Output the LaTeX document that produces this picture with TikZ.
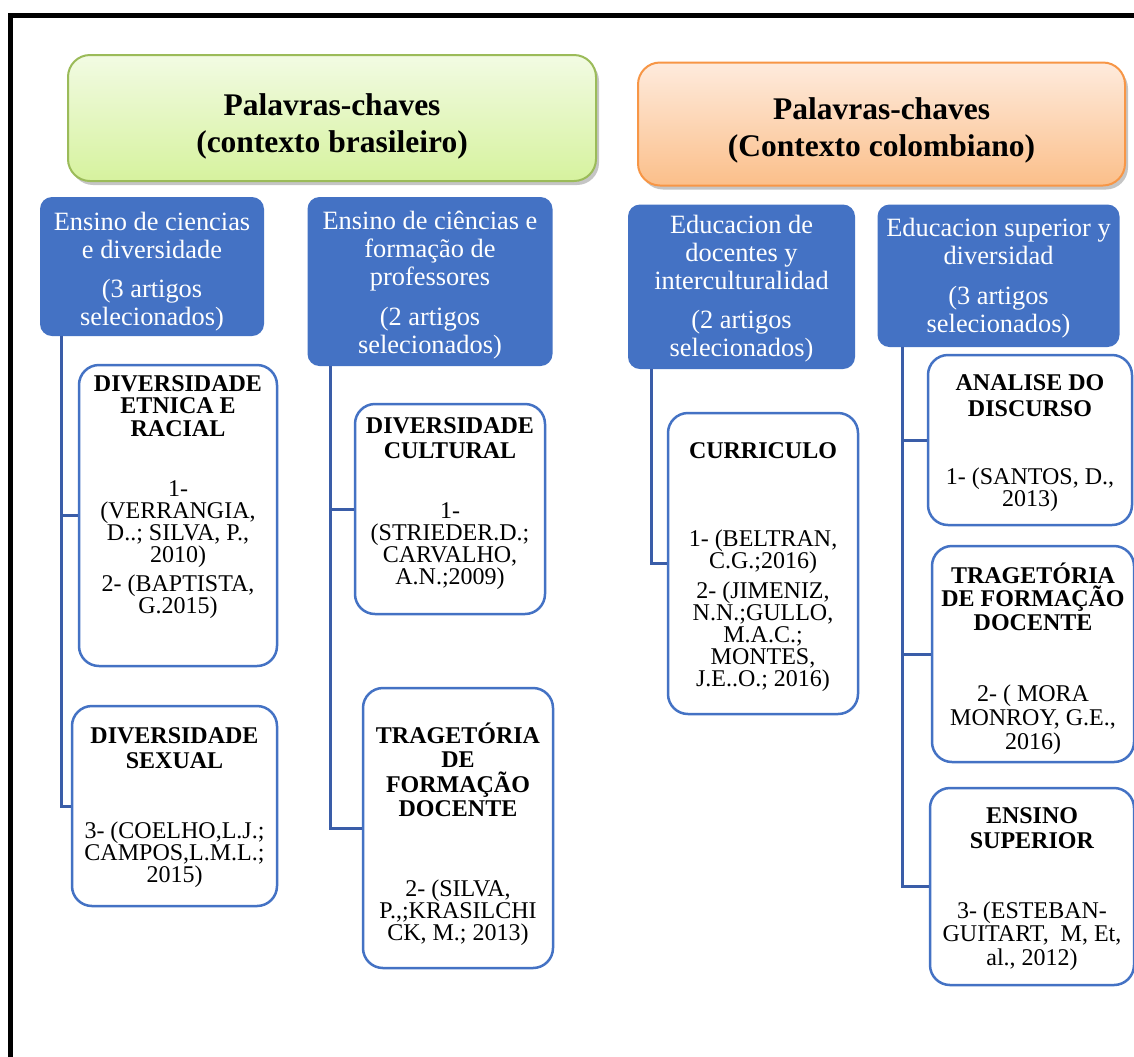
\documentclass[tikz,border=0pt]{standalone}
\usepackage{fontspec}
\setmainfont{Liberation Serif}
\usetikzlibrary{shadows}
\definecolor{accentblue}{HTML}{4472C4}
\definecolor{linkblue}{HTML}{3A5DA8}
\definecolor{greenedge}{HTML}{9BBB59}
\definecolor{greentop}{HTML}{F2FBE3}
\definecolor{greenbot}{HTML}{D6F29E}
\definecolor{orangeedge}{HTML}{F79646}
\definecolor{orangetop}{HTML}{FEEBDD}
\definecolor{orangebot}{HTML}{FBBF8A}
% invisible strut that sets the height of a first text line
\newcommand\firsth[1]{\rule{0pt}{#1}}

\begin{document}
\begin{tikzpicture}[x=0.5pt,y=-0.5pt,
  headbox/.style={rounded corners=11pt, line width=1pt, align=center,
    font=\fontsize{15.75}{18.5}\selectfont\bfseries,
    drop shadow={shadow xshift=1.5pt,shadow yshift=-2pt,opacity=.45}},
  topic/.style={fill=accentblue, rounded corners=6pt, text=white, align=center,
    font=\fontsize{13.2}{14}\selectfont, inner sep=0pt},
  leaf/.style={draw=accentblue, line width=1.25pt, rounded corners=10pt, fill=white, inner sep=0pt},
  leaftext/.style={anchor=north, align=center, font=\fontsize{12}{11}\selectfont,
    inner sep=0pt, execute at begin node={\firsth{11pt}}},
  link/.style={draw=linkblue, line width=1.5pt},
]
\useasboundingbox (0,0) rectangle (1134,1056);
\clip (0,0) rectangle (1134,1056);
\fill[white] (0,0) rectangle (1134,1056);

% outer frame
\draw[line width=2.5pt] (10.5,15.5) rectangle (1160,1080);

% keyword headers
\node[headbox, draw=greenedge, top color=greentop, bottom color=greenbot,
      minimum width=264pt, minimum height=63pt] (kwbr) at (332,118)
  {\firsth{19.2pt}Palavras-chaves\\(contexto brasileiro)};
\node[headbox, draw=orangeedge, top color=orangetop, bottom color=orangebot,
      minimum width=243.5pt, minimum height=61.5pt] (kwco) at (881.5,124)
  {\firsth{17.2pt}Palavras-chaves\\(Contexto colombiano)};

% topic boxes
\node[topic, minimum width=112pt, minimum height=69.5pt] (b1) at (152,266.5)
  {\firsth{14.5pt}Ensino de ciencias\\e diversidade\\[5.75pt](3 artigos\\selecionados)};
\node[topic, minimum width=122.5pt, minimum height=84.5pt] (b2) at (430,281.5)
  {\firsth{13pt}Ensino de ciências e\\formação de\\professores\\[5.75pt](2 artigos\\selecionados)};
\node[topic, minimum width=113.5pt, minimum height=82.25pt] (b3) at (741.5,286.75)
  {\firsth{11pt}Educacion de\\docentes y\\interculturalidad\\[5.75pt](2 artigos\\selecionados)};
\node[topic, minimum width=121pt, minimum height=71.25pt] (b4) at (998.5,275.75)
  {\firsth{11.7pt}Educacion superior y\\diversidad\\[5.75pt](3 artigos\\selecionados)};

% keyword boxes
\node[leaf, minimum width=99pt,  minimum height=150.5pt] (l1) at (178,515.5) {};
\node[leaf, minimum width=102.5pt, minimum height=100pt] (l2) at (174.5,806) {};
\node[leaf, minimum width=95pt,  minimum height=105pt] (l3) at (450,509) {};
\node[leaf, minimum width=95pt,  minimum height=140pt] (l4) at (458,828) {};
\node[leaf, minimum width=95pt,  minimum height=150.5pt] (l5) at (763,563.5) {};
\node[leaf, minimum width=102pt, minimum height=85pt] (l6) at (1030,440) {};
\node[leaf, minimum width=101pt, minimum height=108pt] (l7) at (1033,654) {};
\node[leaf, minimum width=102pt, minimum height=98.5pt] (l8) at (1032,886.5) {};

% keyword box contents
\node[leaftext] (l1t) at (178,375)
  {\textbf{DIVERSIDADE}\\[0.25pt]\textbf{ETNICA E}\\[0.25pt]\textbf{RACIAL}\\[19pt]
   1-\\(VERRANGIA,\\D..; SILVA, P.,\\2010)\\[3.5pt]2- (BAPTISTA,\\G.2015)};
\node[leaftext] (l2t) at (174.5,727)
  {\textbf{DIVERSIDADE}\\[1.5pt]\textbf{SEXUAL}\\[24pt]
   3- (COELHO,L.J.;\\CAMPOS,L.M.L.;\\2015)};
\node[leaftext] (l3t) at (450,417)
  {\textbf{DIVERSIDADE}\\[1.5pt]\textbf{CULTURAL}\\[19pt]
   1-\\(STRIEDER.D.;\\CARVALHO,\\A.N.;2009)};
\node[leaftext] (l4t) at (458,722)
  {\textbf{TRAGETÓRIA}\\[1.25pt]\textbf{DE}\\[1.25pt]\textbf{FORMAÇÃO}\\[1.25pt]\textbf{DOCENTE}\\[29pt]
   2- (SILVA,\\P.,;KRASILCHI\\CK, M.; 2013)};
\node[leaftext] (l5t) at (763,442)
  {\textbf{CURRICULO}\\[33pt]
   1- (BELTRAN,\\C.G.;2016)\\[4pt]2- (JIMENIZ,\\N.N.;GULLO,\\M.A.C.;\\MONTES,\\J.E..O.; 2016)};
\node[leaftext] (l6t) at (1030,374)
  {\textbf{ANALISE DO}\\[2pt]\textbf{DISCURSO}\\[23pt]
   1- (SANTOS, D.,\\2013)};
\node[leaftext] (l7t) at (1033,562)
  {\textbf{TRAGETÓRIA}\\[0.75pt]\textbf{DE FORMAÇÃO}\\[0.75pt]\textbf{DOCENTE}\\[24.5pt]
   2- ( MORA\\[1pt]MONROY, G.E.,\\[1pt]2016)};
\node[leaftext] (l8t) at (1032,807)
  {\textbf{ENSINO}\\[1.5pt]\textbf{SUPERIOR}\\[24pt]
   3- (ESTEBAN-\\[0.75pt]GUITART,\ \ M, Et,\\[0.75pt]al., 2012)};

% connectors
\draw[link] ([xshift=11pt]b1.south west) |- (l1.west);
\draw[link] ([xshift=11pt]b1.south west) |- (l2.west);
\draw[link] ([xshift=11.5pt]b2.south west) |- (l3.west);
\draw[link] ([xshift=11.5pt]b2.south west) |- (l4.west);
\draw[link] ([xshift=12pt]b3.south west) |- (l5.west);
\draw[link] ([xshift=12.5pt]b4.south west) |- (l6.west);
\draw[link] ([xshift=12.5pt]b4.south west) |- (l7.west);
\draw[link] ([xshift=12.5pt]b4.south west) |- (l8.west);
\end{tikzpicture}
\end{document}
